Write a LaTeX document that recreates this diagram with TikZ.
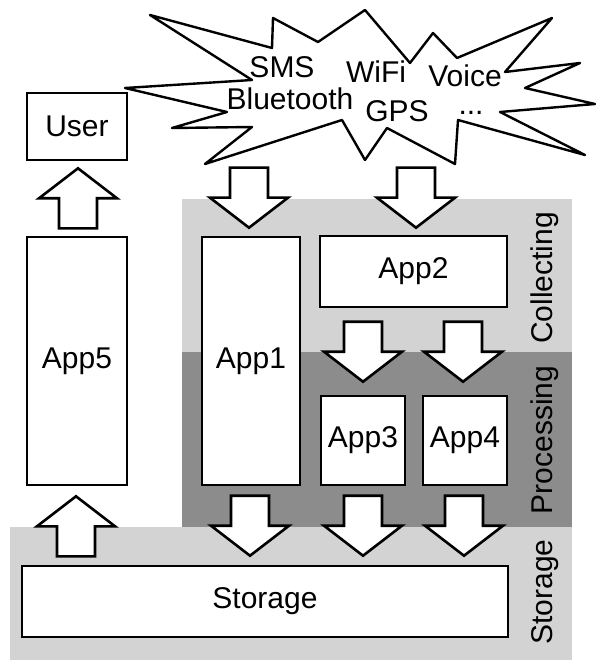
\documentclass[tikz,border=0pt]{standalone}
\usepackage{fontspec}
\setmainfont{Liberation Sans}
\usetikzlibrary{calc}
\definecolor{lightband}{HTML}{D3D3D3}
\definecolor{darkband}{HTML}{8C8C8C}
\newcommand\dnarr[1]{\draw[barrow] #1 -- ++(-39,-30) -- ++(20,0) -- ++(0,-30) -- ++(38,0) -- ++(0,30) -- ++(20,0) -- cycle;}
\newcommand\uparr[1]{\draw[barrow] #1 -- ++(-39,30) -- ++(20,0) -- ++(0,30) -- ++(38,0) -- ++(0,-30) -- ++(20,0) -- cycle;}
\begin{document}
\begin{tikzpicture}[x=1pt,y=-1pt,
  box/.style={draw=black,line width=2.6pt,fill=white,inner sep=0pt,font=\fontsize{30}{36}\selectfont},
  lbl/.style={inner sep=0pt,font=\fontsize{30}{36}\selectfont},
  barrow/.style={draw=black,fill=white,line width=2.6pt,line join=miter},
  cloudline/.style={draw=black,fill=white,line width=2.4pt,line join=round}]
\useasboundingbox (0,0) rectangle (595,660);
% bands
\fill[lightband] (182,199) rectangle (572,352);
\fill[darkband] (182,352) rectangle (572,527);
\fill[lightband] (10,527) rectangle (572,660);
% side labels
\node[lbl,rotate=90] (collecting) at (545,278) {Collecting};
\node[lbl,rotate=90] (processing) at (545,440) {Processing};
\node[lbl,rotate=90] (storagelbl) at (545,592) {Storage};
% boxes
\node[box,minimum width=100pt,minimum height=67pt] (user) at (77,126.5) {User};
\node[box,minimum width=100pt,minimum height=248pt] (app5) at (77,361) {App5};
\node[box,minimum width=98pt,minimum height=248pt] (app1) at (251,361) {App1};
\node[box,minimum width=187pt,minimum height=71pt] (app2) at (413.5,271.5) {App2};
\node[box,minimum width=84pt,minimum height=89pt] (app3) at (363,440.5) {App3};
\node[box,minimum width=84pt,minimum height=89pt] (app4) at (465,440.5) {App4};
\node[box,minimum width=486pt,minimum height=71pt] (storage) at (265,601.5) {Storage};
% cloud
\draw[cloudline] (150,15) -- (272,48) -- (273,18) -- (318,42) -- (365,10) -- (410,63) -- (433,33) -- (457,58) -- (552,18) -- (505,72) -- (580,63) -- (525,88) -- (595,104) -- (500,112) -- (585,155) -- (458,120) -- (455,164) -- (387,128) -- (365,160) -- (342,120) -- (205,164) -- (252,127) -- (172,128) -- (227,112) -- (125,88) -- (252,80) -- cycle;
\node[lbl,anchor=base] (sms) at (282,78) {SMS};
\node[lbl,anchor=base] (wifi) at (376,83) {WiFi};
\node[lbl,anchor=base] (voice) at (465,87) {Voice};
\node[lbl,anchor=base] (bluetooth) at (290,110) {Bluetooth};
\node[lbl,anchor=base] (gps) at (397,122) {GPS};
\node[lbl,anchor=base] (dots) at (471,115) {...};
% arrows
\dnarr{($(app1.north)+(-2,-8)$)}
\dnarr{($(app2.north)+(2.5,-7)$)}
\dnarr{($(app3.north)+(0,-13)$)}
\dnarr{($(app4.north)+(-2,-13)$)}
\dnarr{($(app1.south |- storage.north)+(-1,-9)$)}
\dnarr{($(app3.south |- storage.north)+(0,-9)$)}
\dnarr{($(app4.south |- storage.north)+(-1,-9)$)}
\uparr{($(app5.south)+(-1,10)$)}
\uparr{($(user.south)+(1,7)$)}
\end{tikzpicture}
\end{document}
